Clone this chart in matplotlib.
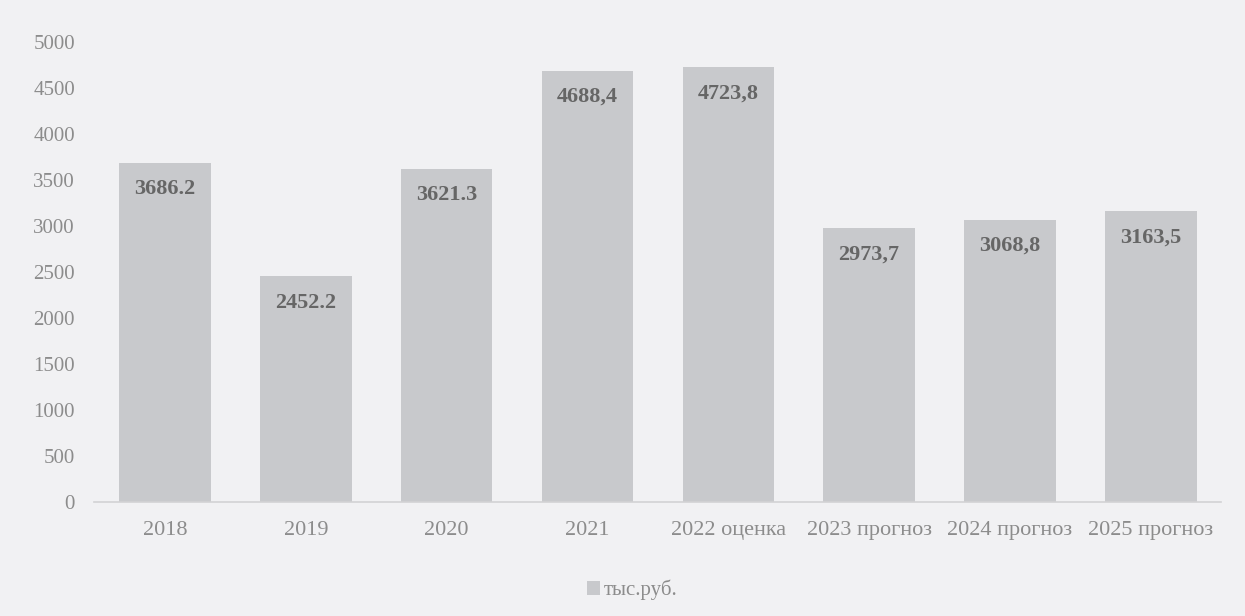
import numpy as np
import matplotlib.pyplot as plt

# Data
categories = ["2018", "2019", "2020", "2021", "2022 оценка",
              "2023 прогноз", "2024 прогноз", "2025 прогноз"]
values = [3686.2, 2452.2, 3621.3, 4688.4, 4723.8, 2973.7, 3068.8, 3163.5]
value_labels = ["3686.2", "2452.2", "3621.3", "4688,4", "4723,8",
                "2973,7", "3068,8", "3163,5"]
y_ticks = [0, 500, 1000, 1500, 2000, 2500, 3000, 3500, 4000, 4500, 5000]
series_name = "тыс.руб."

plt.rcParams['font.family'] = ['Liberation Serif', 'DejaVu Serif']

bg = "#f1f1f3"
bar_color = "#c8c9cc"
tick_color = "#8c8c8c"
label_color = "#666666"

fig = plt.figure(figsize=(12.45, 6.16), dpi=100, facecolor=bg)
ax = fig.add_axes([0.0759, 0.185, 0.905, 0.747])
ax.set_facecolor(bg)

x = np.arange(len(categories))
bars = ax.bar(x, values, width=0.65, color=bar_color, label=series_name)

# value labels inside the top of each bar
for rect, txt in zip(bars, value_labels):
    ax.annotate(txt, (rect.get_x() + rect.get_width() / 2, rect.get_height()),
                xytext=(0, -19), textcoords="offset points",
                ha="center", va="center", fontsize=16, fontweight="bold",
                color=label_color)

ax.set_xlim(-0.5, len(categories) - 0.5)
ax.set_ylim(0, 5000)
ax.set_yticks(y_ticks)
ax.set_yticklabels([str(v) for v in y_ticks])
ax.set_xticks(x)
ax.set_xticklabels(categories)

ax.tick_params(axis="y", length=0, pad=14, labelsize=15, labelcolor=tick_color)
ax.tick_params(axis="x", length=0, pad=14, labelsize=16, labelcolor=tick_color)

for side in ["top", "right", "left"]:
    ax.spines[side].set_visible(False)
ax.spines["bottom"].set_color("#d2d2d4")
ax.spines["bottom"].set_linewidth(1.2)

fig.legend(loc="center", bbox_to_anchor=(0.508, 0.042), frameon=False,
           fontsize=15, labelcolor=tick_color, handlelength=0.6,
           handleheight=0.6, handletextpad=0.2)

plt.savefig("out.png", dpi=100, facecolor=bg)
plt.close()
